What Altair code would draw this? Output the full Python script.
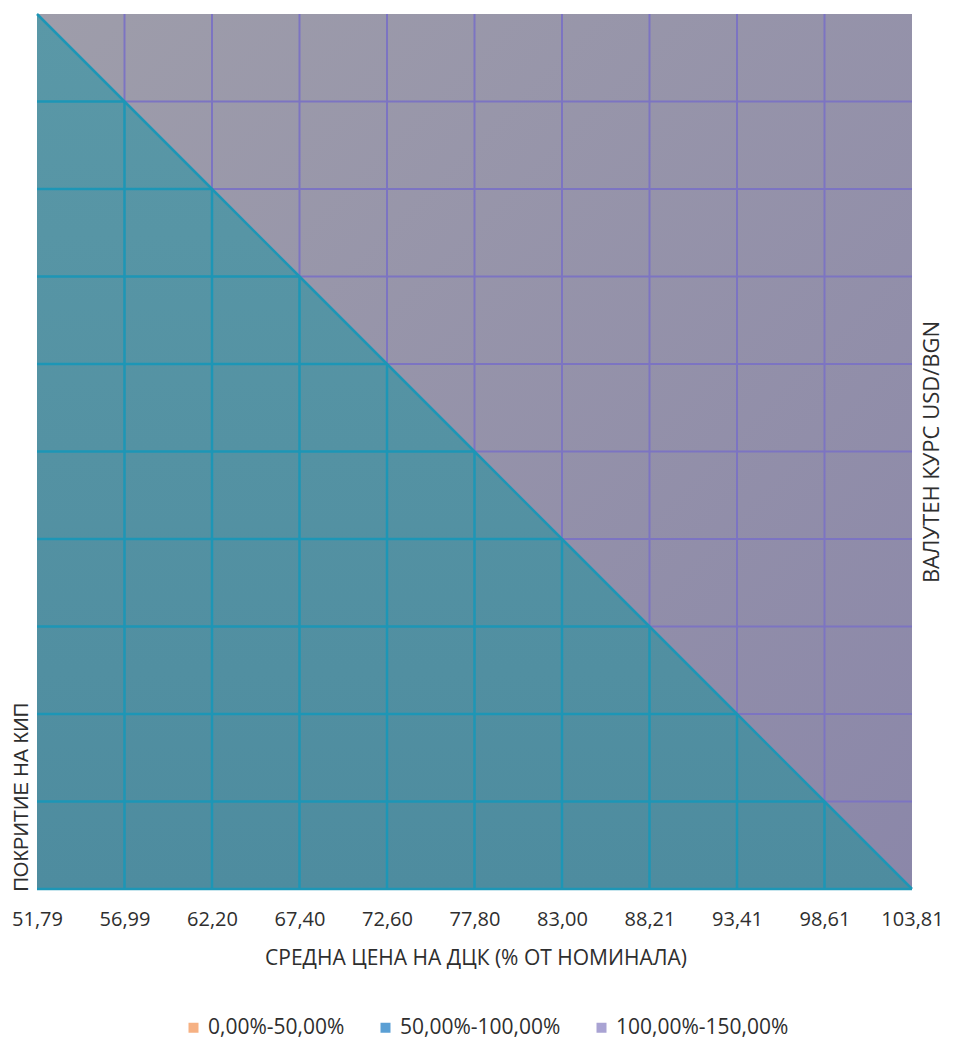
import altair as alt
import pandas as pd

# ---- data ----
x_labels = ["51,79", "56,99", "62,20", "67,40", "72,60", "77,80",
            "83,00", "88,21", "93,41", "98,61", "103,81"]
grid_idx = list(range(11))
# y position (grid index) of the 100% contour at each x index
boundary_y = [10, 9, 8, 7, 6, 5, 4, 3, 2, 1, 0]
legend_labels = ["0,00%-50,00%", "50,00%-100,00%", "100,00%-150,00%"]
legend_colors = ["#f6b183", "#5a9fd4", "#a9a3d3"]

x_title = "СРЕДНА ЦЕНА НА ДЦК (% ОТ НОМИНАЛА)"
y_title = "ПОКРИТИЕ НА КИП"
y2_title = "ВАЛУТЕН КУРС USD/BGN"

W, H = 875, 875
FONT = "Open Sans"
TXT = "#2e2e2e"
TEAL_LINE = "#1d96b6"
PURPLE_LINE = "#7c74c2"

lo, hi = min(grid_idx), max(grid_idx)
surface = pd.DataFrame({"x": grid_idx, "b": boundary_y,
                        "top": [hi] * len(grid_idx), "bottom": [lo] * len(grid_idx)})

v_teal, v_purple, h_teal, h_purple = [], [], [], []
for i in grid_idx[1:-1]:
    v_teal.append(dict(x=i, y=lo, y2=boundary_y[i]))
    v_purple.append(dict(x=i, y=boundary_y[i], y2=hi))
for j in grid_idx[:-1]:
    bx = grid_idx[boundary_y.index(j)]
    h_teal.append(dict(y=j, x=lo, x2=bx))
    if bx < hi:
        h_purple.append(dict(y=j, x=bx, x2=hi))

xs = alt.Scale(domain=[lo, hi], nice=False, zero=False)
ys = alt.Scale(domain=[lo, hi], nice=False, zero=False)

label_expr = "[" + ",".join("'%s'" % l for l in x_labels) + "][datum.value]"
x_axis = alt.Axis(orient="bottom", values=grid_idx, labelExpr=label_expr,
                  ticks=False, tickSize=0, domain=False, grid=False,
                  labelFont=FONT, labelFontSize=20, labelColor=TXT,
                  labelPadding=30, labelBaseline="middle", labelOverlap=False,
                  labelFlush=False, labelAlign="center",
                  title=x_title, titleFont=FONT, titleFontSize=21,
                  titleFontWeight="normal", titleColor=TXT, titleX=W / 2 + 1,
                  titleY=69, titleBaseline="middle", titleAlign="center")
left_axis = alt.Axis(orient="left", labels=False, ticks=False, domain=False,
                     grid=False, title=y_title, titleFont="Liberation Sans",
                     titleFontSize=20, titleFontWeight="normal", titleColor=TXT,
                     titleAngle=270, titleX=-16, titleY=H + 2, titleAlign="left",
                     titleBaseline="middle")
right_axis = alt.Axis(orient="right", labels=False, ticks=False, domain=False,
                      grid=False, title=y2_title, titleFont=FONT, titleFontSize=22,
                      titleFontWeight="normal", titleColor=TXT, titleAngle=270,
                      titleX=19, titleY=H / 2, titleAlign="center",
                      titleBaseline="middle")

grad_purple = alt.LinearGradient(
    gradient="linear", x1=0, y1=0, x2=1, y2=1,
    stops=[alt.GradientStop(color="#9e9daa", offset=0),
           alt.GradientStop(color="#8b87a9", offset=1)])
grad_teal = alt.LinearGradient(
    gradient="linear", x1=0, y1=0, x2=0, y2=1,
    stops=[alt.GradientStop(color="#5a98a7", offset=0),
           alt.GradientStop(color="#4e8c9f", offset=1)])

purple = alt.Chart(surface).mark_area(color=grad_purple).encode(
    x=alt.X("x:Q", scale=xs, axis=None),
    y=alt.Y("b:Q", scale=ys, axis=right_axis),
    y2="top:Q")

teal = alt.Chart(surface).mark_area(color=grad_teal).encode(
    x=alt.X("x:Q", scale=xs, axis=x_axis),
    y=alt.Y("b:Q", scale=ys, axis=left_axis),
    y2="bottom:Q")


def vrule(rows, color, w):
    return alt.Chart(pd.DataFrame(rows)).mark_rule(color=color, strokeWidth=w).encode(
        x=alt.X("x:Q", scale=xs, axis=None),
        y=alt.Y("y:Q", scale=ys, axis=None), y2="y2:Q")


def hrule(rows, color, w):
    return alt.Chart(pd.DataFrame(rows)).mark_rule(color=color, strokeWidth=w).encode(
        y=alt.Y("y:Q", scale=ys, axis=None),
        x=alt.X("x:Q", scale=xs, axis=None), x2="x2:Q")


diag = alt.Chart(surface).mark_line(color=TEAL_LINE, strokeWidth=2.5).encode(
    x=alt.X("x:Q", scale=xs, axis=None),
    y=alt.Y("b:Q", scale=ys, axis=None))

legend_layer = alt.Chart(pd.DataFrame({"band": legend_labels})).mark_square(
    opacity=0).encode(
    color=alt.Color("band:N", scale=alt.Scale(domain=legend_labels, range=legend_colors),
                    legend=alt.Legend(title=None, orient="none", direction="horizontal",
                                      legendX=146, legendY=1003, symbolType="square",
                                      symbolSize=100, symbolOpacity=1,
                                      symbolStrokeWidth=0, labelFont=FONT,
                                      labelFontSize=21, labelColor=TXT,
                                      labelOffset=4, columnPadding=30,
                                      labelLimit=300, padding=0)))

chart = alt.layer(
    purple, teal,
    vrule(v_purple, PURPLE_LINE, 2), hrule(h_purple, PURPLE_LINE, 2),
    vrule(v_teal, TEAL_LINE, 2.5), hrule(h_teal, TEAL_LINE, 2.5),
    diag, legend_layer
).resolve_axis(x="independent", y="independent").properties(
    width=W, height=H, autosize="none",
    padding={"left": 29, "top": 6, "right": 32, "bottom": 153},
    background="white"
).configure_view(strokeWidth=0)

chart.save("out.html", embed_options={"renderer": "svg", "actions": False})
